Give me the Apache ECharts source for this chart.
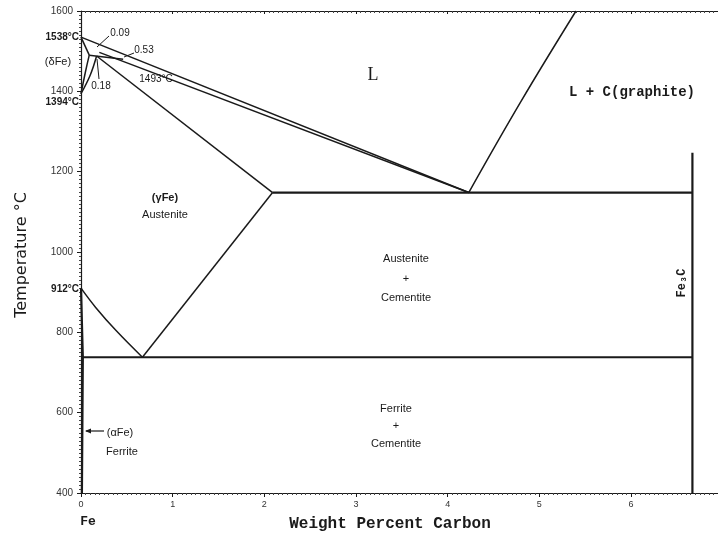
<!DOCTYPE html>
<html><head><meta charset="utf-8">
<script src="https://cdn.jsdelivr.net/npm/echarts@6/dist/echarts.min.js"></script>
<style>html,body{margin:0;padding:0;background:#fff}#c{width:718px;height:539px}</style>
</head><body><div id="c"></div>
<script>
// ---- data (weight % C, temperature °C) ----
const xTicks = [0, 1, 2, 3, 4, 5, 6];
const yTicks = [400, 600, 800, 1000, 1200, 1400, 1600];
const liquidusUpper = [[0, 1535], [4.23, 1148]];
const liquidusLower = [[0.2, 1497], [4.23, 1148]];
const deltaSolidus = [[0, 1535], [0.09, 1490]];
const peritectic = [[0.09, 1490], [0.46, 1480]];
const deltaGammaA = [[0, 1394], [0.05, 1450], [0.09, 1490]];
const deltaGammaB = [[0, 1394], [0.1, 1440], [0.17, 1488]];
const gammaSolidus = [[0.17, 1488], [2.09, 1148]];
const eutectic = [[2.09, 1148], [6.67, 1148]];
const hyperLiquidus = [[4.23, 1148], [4.8, 1375], [5.4, 1600]];
const a3Line = [[0, 910], [0.16, 862], [0.38, 805], [0.67, 738]];
const acmLine = [[0.67, 738], [2.09, 1148]];
const eutectoid = [[0.02, 738], [6.67, 738]];
const ferriteSolvus = [[0, 910], [0.02, 738], [0.01, 400]];
const cementiteLine = [[6.67, 400], [6.67, 1247]];

const boundaries = [liquidusUpper, liquidusLower, deltaSolidus, peritectic, deltaGammaA, deltaGammaB,
  gammaSolidus, eutectic, hyperLiquidus, a3Line, acmLine, eutectoid, ferriteSolvus, cementiteLine];
const smoothSet = new Set([a3Line, deltaGammaA, deltaGammaB, hyperLiquidus]);
const thick = new Set([eutectic, eutectoid, ferriteSolvus, cementiteLine]);

const chart = echarts.init(document.getElementById('c'));
const ink = '#1a1a1a';
const axisCommon = {
  type: 'value', min: 0, max: 6.96, interval: 1,
  axisLine: { lineStyle: { color: ink, width: 1.2 } },
  splitLine: { show: false },
  minorTick: { show: true, splitNumber: 20, length: 2, lineStyle: { color: '#444' } },
};
const sans = 'Liberation Sans, Arial, sans-serif';
const mono = 'Liberation Mono, Courier New, monospace';
function txt(x, y, s, opt, extra) {
  return Object.assign({ type: 'text', x: x, y: y, style: Object.assign({ text: s, fill: ink, font: '11px ' + sans, textAlign: 'center', textVerticalAlign: 'middle' }, opt || {}) }, extra || {});
}
chart.setOption({
  animation: false,
  grid: { left: 81, top: 11, width: 638, height: 482, containLabel: false, outerBoundsMode: 'none' },
  xAxis: [
    Object.assign({}, axisCommon, {
      position: 'bottom',
      axisTick: { show: true, length: 4, inside: false, lineStyle: { color: ink } },
      axisLabel: { color: '#333', fontSize: 9, fontFamily: sans, margin: 7, formatter: v => xTicks.includes(v) ? String(v) : '' }
    }),
    Object.assign({}, axisCommon, {
      position: 'top',
      axisTick: { show: true, length: 3, inside: true, lineStyle: { color: ink } },
      axisLabel: { show: false }
    })
  ],
  yAxis: {
    type: 'value', min: 400, max: 1600, interval: 200,
    axisLine: { lineStyle: { color: ink, width: 1.2 } },
    splitLine: { show: false },
    axisTick: { show: true, length: 4, lineStyle: { color: ink } },
    minorTick: { show: true, splitNumber: 20, length: 2, lineStyle: { color: '#444' } },
    axisLabel: { color: '#333', fontSize: 10, fontFamily: sans, margin: 8, formatter: v => yTicks.includes(v) ? String(v) : '' }
  },
  series: boundaries.map(d => ({
    type: 'line', data: d, showSymbol: false, smooth: smoothSet.has(d) ? 0.4 : false,
    lineStyle: { color: ink, width: thick.has(d) ? 2.2 : 1.5 }, silent: true
  })),
  graphic: [
    txt(22, 255, 'Temperature °C', { font: '16px DejaVu Sans, sans-serif' }, { rotation: Math.PI / 2 }),
    txt(390, 524, 'Weight Percent Carbon', { font: 'bold 16px ' + mono }),
    txt(79, 37, '1538°C', { font: 'bold 10px ' + sans, textAlign: 'right' }),
    txt(58, 62, '(δFe)', { font: '11px ' + sans }),
    txt(79, 102, '1394°C', { font: 'bold 10px ' + sans, textAlign: 'right' }),
    txt(79, 289, '912°C', { font: 'bold 10px ' + sans, textAlign: 'right' }),
    txt(120, 33, '0.09', { font: '10px ' + sans }),
    txt(144, 50, '0.53', { font: '10px ' + sans }),
    txt(101, 86, '0.18', { font: '10px ' + sans }),
    txt(156, 79, '1493°C', { font: '10px ' + sans }),
    { type: 'line', shape: { x1: 97, y1: 47, x2: 109, y2: 36 }, style: { stroke: ink, lineWidth: 1 } },
    { type: 'line', shape: { x1: 124, y1: 57, x2: 134, y2: 53 }, style: { stroke: ink, lineWidth: 1 } },
    { type: 'line', shape: { x1: 97, y1: 59, x2: 99, y2: 79 }, style: { stroke: ink, lineWidth: 1 } },
    txt(373, 75, 'L', { font: '18px Liberation Serif, serif' }),
    txt(632, 92, 'L + C(graphite)', { font: 'bold 14px ' + mono }),
    txt(165, 198, '(γFe)', { font: 'bold 11px ' + sans }),
    txt(165, 215, 'Austenite', { font: '11px ' + sans }),
    txt(406, 259, 'Austenite', { font: '11px ' + sans }),
    txt(406, 279, '+', { font: '11px ' + sans }),
    txt(406, 298, 'Cementite', { font: '11px ' + sans }),
    txt(396, 409, 'Ferrite', { font: '11px ' + sans }),
    txt(396, 426, '+', { font: '11px ' + sans }),
    txt(396, 444, 'Cementite', { font: '11px ' + sans }),
    txt(120, 433, '(αFe)', { font: '11px ' + sans }),
    txt(122, 452, 'Ferrite', { font: '11px ' + sans }),
    { type: 'line', shape: { x1: 86, y1: 431, x2: 104, y2: 431 }, style: { stroke: ink, lineWidth: 1.2 } },
    { type: 'polygon', shape: { points: [[85, 431], [91, 428.5], [91, 433.5]] }, style: { fill: ink } },
    txt(682, 283, 'Fe₃C', { font: 'bold 12px ' + mono }, { rotation: Math.PI / 2 }),
    txt(88, 522, 'Fe', { font: 'bold 13px ' + mono })
  ]
});
</script></body></html>
